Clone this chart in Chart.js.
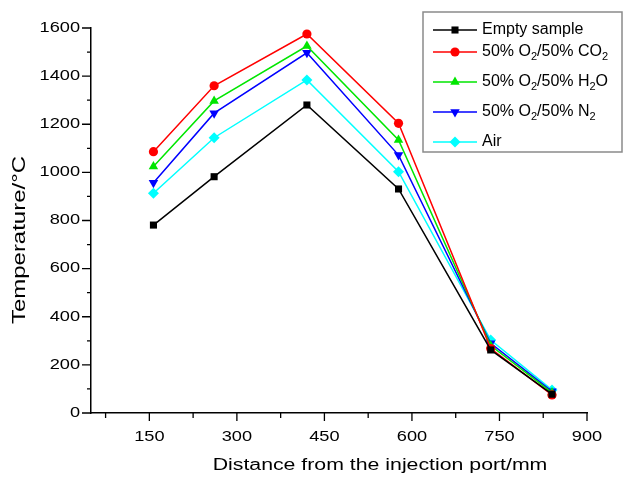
<!DOCTYPE html>
<html>
<head>
<meta charset="utf-8">
<script src="https://cdn.jsdelivr.net/npm/chart.js@4.4.0/dist/chart.umd.min.js"></script>
<style>
  body { margin: 0; background: #fff; }
  canvas { display: block; }
</style>
</head>
<body>
<canvas id="myChart" width="630" height="477"></canvas>
<script>
// distance from injection port (mm)
let distances = [157, 261, 420, 577, 735, 840];

let emptySample = [781, 982, 1280, 931, 262, 78];
let co2Mix = [1086, 1360, 1575, 1204, 268, 75];
let h2oMix = [1024, 1297, 1525, 1135, 280, 85];
let n2Mix = [957, 1246, 1497, 1072, 290, 90];
let air = [913, 1144, 1384, 1003, 303, 96];

// "_2" means subscript 2
let seriesNames = ["Empty sample", "50% O_2/50% CO_2", "50% O_2/50% H_2O", "50% O_2/50% N_2", "Air"];
let xTitle = "Distance from the injection port/mm";
let yTitle = "Temperature/°C";

let xTickValues = [150, 300, 450, 600, 750, 900];
let xMinorValues = [75, 225, 375, 525, 675, 825];
let yTickValues = [0, 200, 400, 600, 800, 1000, 1200, 1400, 1600];
let yMinorValues = [100, 300, 500, 700, 900, 1100, 1300, 1500];

let colors = ["#000000", "#ff0000", "#00e600", "#0000ff", "#00ffff"];
let markers = ["rect", "circle", "triangle", "triangle", "rectRot"];
let markerRot = [0, 0, 0, 180, 0];
let markerSize = [5, 4.6, 5.5, 5.5, 5.5];

const FONT = "'Liberation Sans', Arial, Helvetica, sans-serif";

function pts(values) {
    return distances.map((d, i) => ({ x: d, y: values[i] }));
}

let allSeries = [emptySample, co2Mix, h2oMix, n2Mix, air];

let datasets = allSeries.map((vals, i) => ({
    label: seriesNames[i].replace(/_/g, ""),
    data: pts(vals),
    borderColor: colors[i],
    backgroundColor: colors[i],
    borderWidth: 1.5,
    pointStyle: markers[i],
    pointRotation: markerRot[i],
    pointRadius: markerSize[i],
    pointBorderWidth: 0,
    tension: 0,
}));

// the original figure's text is wide (stretched along the baseline)
function wideText(ctx, text, x, y, size, sx, align, rot) {
    ctx.save();
    ctx.translate(x, y);
    ctx.rotate(rot || 0);
    ctx.scale(sx, 1);
    ctx.font = size + "px " + FONT;
    ctx.textAlign = align;
    ctx.textBaseline = "middle";
    ctx.fillStyle = "#000";
    ctx.fillText(text, 0, 0);
    ctx.restore();
}

// ticks, tick labels and axis titles
const axisDecor = {
    id: "axisDecor",
    afterDraw(chart) {
        let ctx = chart.ctx;
        let x = chart.scales.x, y = chart.scales.y;
        ctx.save();
        ctx.strokeStyle = "#000";
        ctx.lineWidth = 1.3;
        ctx.beginPath();
        xTickValues.forEach(v => {
            let px = x.getPixelForValue(v);
            ctx.moveTo(px, y.bottom); ctx.lineTo(px, y.bottom + 8);
        });
        xMinorValues.forEach(v => {
            let px = x.getPixelForValue(v);
            ctx.moveTo(px, y.bottom); ctx.lineTo(px, y.bottom + 5);
        });
        yTickValues.forEach(v => {
            let py = y.getPixelForValue(v);
            ctx.moveTo(x.left, py); ctx.lineTo(x.left - 9, py);
        });
        yMinorValues.forEach(v => {
            let py = y.getPixelForValue(v);
            ctx.moveTo(x.left, py); ctx.lineTo(x.left - 4, py);
        });
        ctx.stroke();
        ctx.restore();

        xTickValues.forEach(v => {
            wideText(ctx, String(v), x.getPixelForValue(v), y.bottom + 24, 14, 1.3, "center");
        });
        yTickValues.forEach(v => {
            wideText(ctx, String(v), x.left - 11, y.getPixelForValue(v), 14, 1.3, "right");
        });
        wideText(ctx, xTitle, 380, y.bottom + 53, 16, 1.33, "center");
        wideText(ctx, yTitle, 20, 240, 17.5, 1.37, "center", -Math.PI / 2);
    }
};

function drawSubText(ctx, str, x, y, size) {
    // splits "_2" parts into subscripts
    let parts = str.split(/(_\w)/);
    parts.forEach(p => {
        if (!p) return;
        if (p[0] === "_") {
            ctx.font = Math.round(size * 0.68) + "px " + FONT;
            ctx.fillText(p.slice(1), x, y + size * 0.3);
            x += ctx.measureText(p.slice(1)).width;
        } else {
            ctx.font = size + "px " + FONT;
            ctx.fillText(p, x, y);
            x += ctx.measureText(p).width;
        }
    });
}

const boxLegend = {
    id: "boxLegend",
    afterDraw(chart) {
        let ctx = chart.ctx;
        let rows = [30, 52, 82, 112, 142];
        ctx.save();
        ctx.fillStyle = "#fff";
        ctx.fillRect(423, 12, 199, 140);
        ctx.strokeStyle = "#8a8a8a";
        ctx.lineWidth = 1.5;
        ctx.strokeRect(423, 12, 199, 140);
        seriesNames.forEach((name, i) => {
            let yy = rows[i];
            ctx.strokeStyle = colors[i];
            ctx.lineWidth = 1.5;
            ctx.beginPath();
            ctx.moveTo(433, yy); ctx.lineTo(477, yy);
            ctx.stroke();
            ctx.fillStyle = colors[i];
            Chart.helpers.drawPoint(ctx, {
                pointStyle: markers[i], rotation: markerRot[i], radius: markerSize[i], borderWidth: 0
            }, 455, yy);
            ctx.fillStyle = "#000";
            ctx.textBaseline = "middle";
            drawSubText(ctx, name, 482, yy, 16);
        });
        ctx.restore();
    }
};

let myChart = new Chart(document.getElementById("myChart").getContext("2d"), {
    type: "line",
    data: { datasets: datasets },
    options: {
        responsive: false,
        animation: false,
        layout: { padding: { top: 28, right: 43, left: 0, bottom: 0 } },
        plugins: {
            legend: { display: false },
            tooltip: { enabled: false },
        },
        scales: {
            x: {
                type: "linear",
                min: 50,
                max: 900,
                grid: { display: false },
                border: { display: true, color: "#000", width: 1.5 },
                afterBuildTicks: (scale) => { scale.ticks = xTickValues.map(v => ({ value: v })); },
                afterFit: (scale) => { scale.height = 64; },
                ticks: { display: false },
            },
            y: {
                min: 0,
                max: 1600,
                grid: { display: false },
                border: { display: true, color: "#000", width: 1.5 },
                afterBuildTicks: (scale) => { scale.ticks = yTickValues.map(v => ({ value: v })); },
                afterFit: (scale) => { scale.width = 91; },
                ticks: { display: false },
            },
        },
    },
    plugins: [axisDecor, boxLegend],
});
</script>
</body>
</html>
